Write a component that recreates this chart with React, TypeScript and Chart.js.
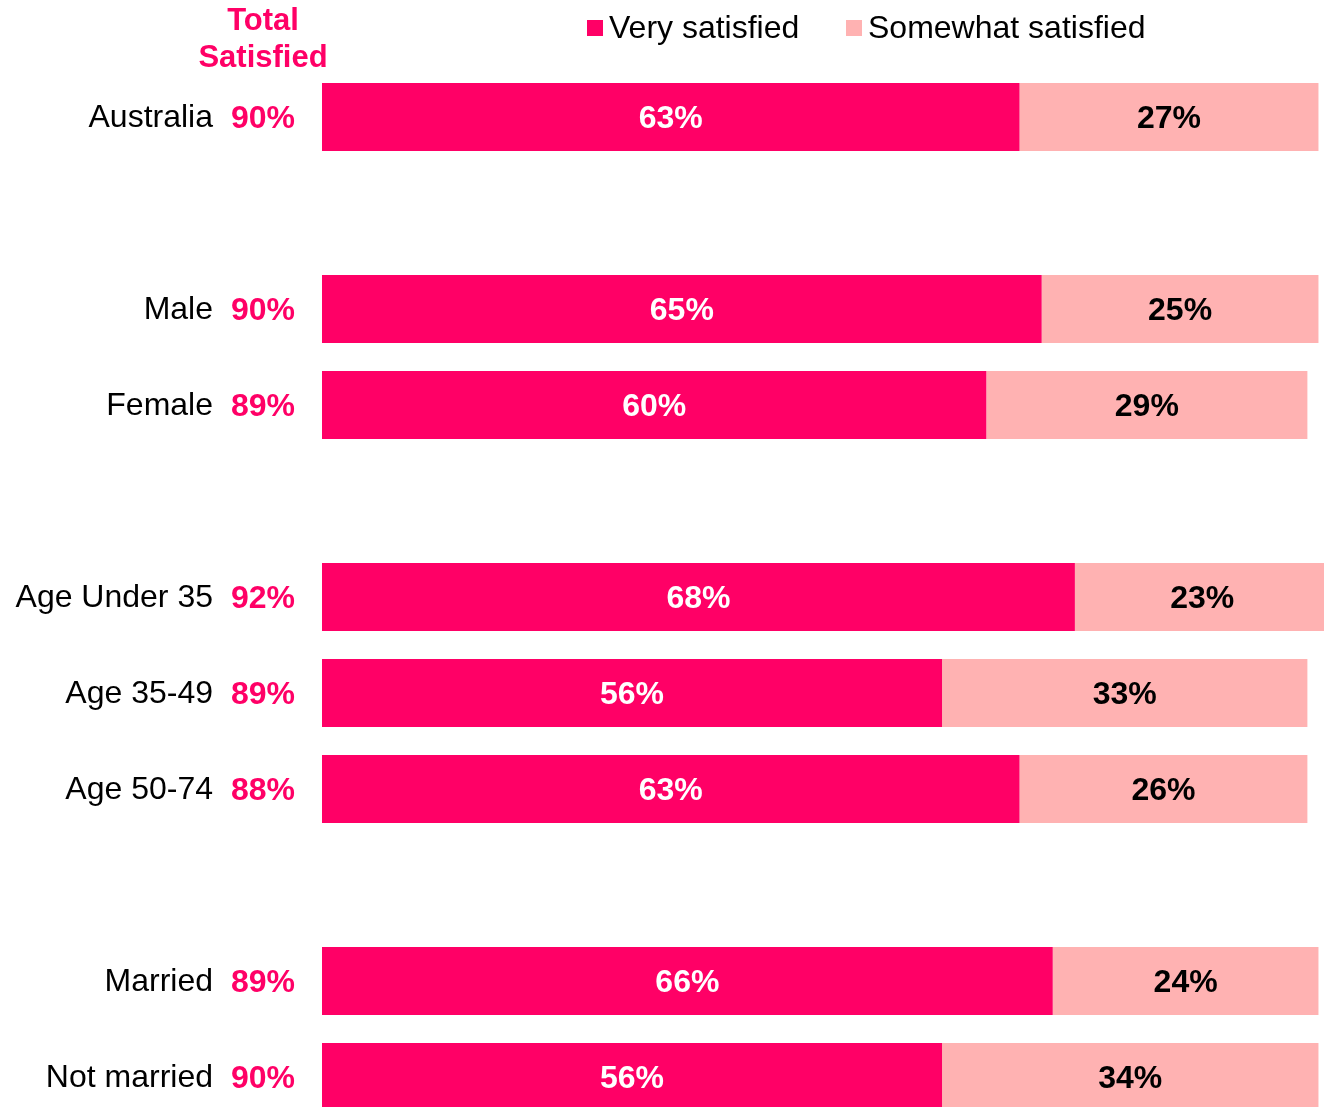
import React, { useEffect, useRef } from "react";
import { Chart, registerables } from "chart.js";

Chart.register(...registerables);

const categories = ["Australia", "", "Male", "Female", "", "Age Under 35", "Age 35-49", "Age 50-74", "", "Married", "Not married"];
const verySatisfied = [63, null, 65, 60, null, 68, 56, 63, null, 66, 56];
const somewhatSatisfied = [27, null, 25, 29, null, 23, 33, 26, null, 24, 34];
const totalSatisfied = [90, null, 90, 89, null, 92, 89, 88, null, 89, 90];
const seriesNames = ["Very satisfied", "Somewhat satisfied"];
const headerLines = ["Total", "Satisfied"];

const PINK = "#FF0066";
const LIGHT = "#FFB2B2";
const FONT = '"Liberation Sans", Arial, sans-serif';

export default function App() {
  const ref = useRef<HTMLCanvasElement | null>(null);

  useEffect(() => {
    const canvas = ref.current;
    if (!canvas) return;

    const overlay = {
      id: "overlay",
      afterDatasetsDraw(chart: any) {
        const ctx = chart.ctx;
        const yScale = chart.scales.y;
        ctx.save();
        // data labels
        chart.data.datasets.forEach((ds: any, di: number) => {
          const meta = chart.getDatasetMeta(di);
          meta.data.forEach((el: any, i: number) => {
            const v = ds.data[i];
            if (v == null) return;
            const cx = (el.x + el.base) / 2;
            ctx.font = `bold 32px ${FONT}`;
            ctx.fillStyle = di === 0 ? "#FFFFFF" : "#000000";
            ctx.textAlign = "center";
            ctx.textBaseline = "middle";
            ctx.fillText(`${v}%`, cx, el.y + 2);
          });
        });
        // category labels and totals
        categories.forEach((c, i) => {
          if (!c) return;
          const y = yScale.getPixelForValue(i);
          ctx.font = `32px ${FONT}`;
          ctx.fillStyle = "#000000";
          ctx.textAlign = "right";
          ctx.textBaseline = "middle";
          ctx.fillText(c, 213, y + 1);
          const t = totalSatisfied[i];
          if (t != null) {
            ctx.font = `bold 32px ${FONT}`;
            ctx.fillStyle = PINK;
            ctx.textAlign = "left";
            ctx.fillText(`${t}%`, 231, y + 2);
          }
        });
        // header
        ctx.font = `bold 31px ${FONT}`;
        ctx.fillStyle = PINK;
        ctx.textAlign = "center";
        ctx.textBaseline = "middle";
        ctx.fillText(headerLines[0], 263, 21);
        ctx.fillText(headerLines[1], 263, 58);
        // legend
        const legendX = [587, 846];
        const colors = [PINK, LIGHT];
        seriesNames.forEach((n, i) => {
          ctx.fillStyle = colors[i];
          ctx.fillRect(legendX[i], 20, 16, 16);
          ctx.fillStyle = "#000000";
          ctx.font = `32px ${FONT}`;
          ctx.textAlign = "left";
          ctx.textBaseline = "middle";
          ctx.fillText(n, legendX[i] + 22, 29);
        });
        ctx.restore();
      },
    };

    const chart = new Chart(canvas, {
      type: "bar",
      data: {
        labels: categories,
        datasets: [
          { label: seriesNames[0], data: verySatisfied as any, backgroundColor: PINK, borderWidth: 0 },
          { label: seriesNames[1], data: somewhatSatisfied as any, backgroundColor: LIGHT, borderWidth: 0 },
        ],
      },
      options: {
        indexAxis: "y",
        animation: false,
        responsive: false,
        devicePixelRatio: 1,
        layout: { padding: { left: 322, right: 0, top: 69, bottom: 15 } },
        datasets: { bar: { categoryPercentage: 1, barPercentage: 68 / 96 } },
        scales: {
          x: { stacked: true, min: 0, max: 90.5, display: false },
          y: { stacked: true, display: false },
        },
        plugins: { legend: { display: false }, tooltip: { enabled: false } },
      },
      plugins: [overlay],
    });
    return () => chart.destroy();
  }, []);

  return (
    <div style={{ position: "fixed", left: 0, top: 0, width: 1324, height: 1140, background: "#fff" }}>
      <canvas ref={ref} width={1324} height={1140} style={{ display: "block" }} />
    </div>
  );
}
